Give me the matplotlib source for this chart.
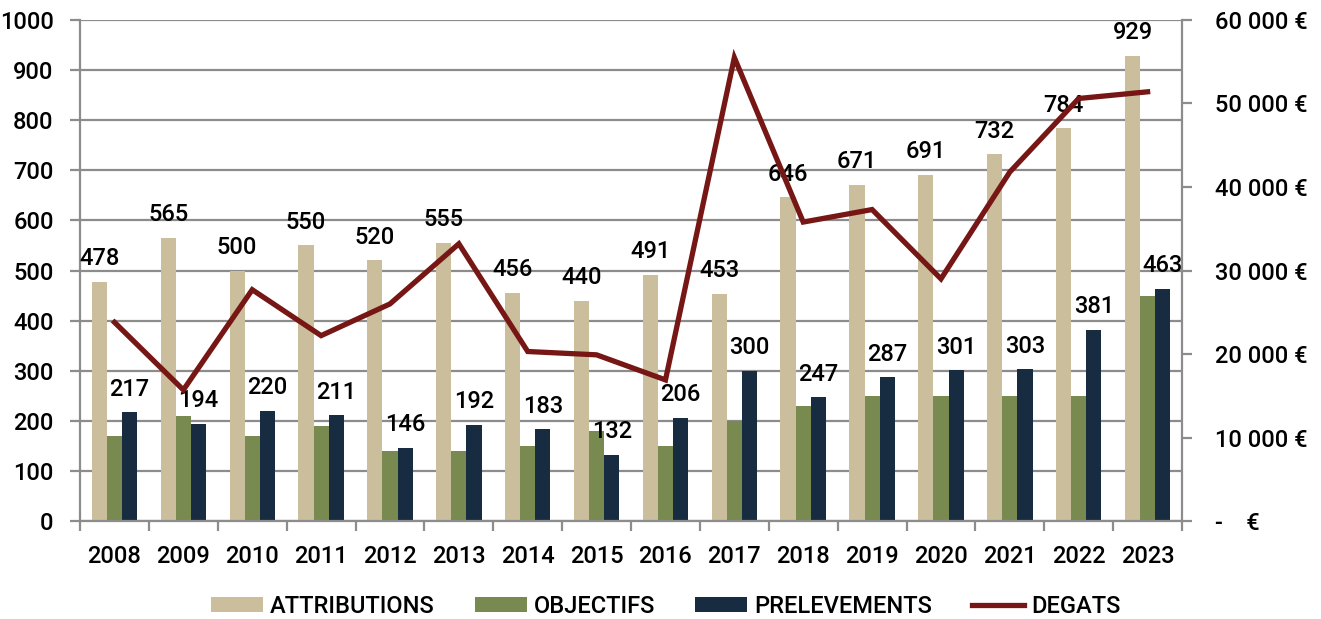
import numpy as np
import matplotlib.pyplot as plt
from matplotlib.ticker import FuncFormatter, MultipleLocator
from matplotlib.lines import Line2D

plt.rcParams['font.family'] = ['Roboto', 'DejaVu Sans']
plt.rcParams['font.size'] = 17
plt.rcParams['font.weight'] = 'medium'

# Données par année
annees = ['2008', '2009', '2010', '2011', '2012', '2013', '2014', '2015',
          '2016', '2017', '2018', '2019', '2020', '2021', '2022', '2023']
attributions = [478, 565, 500, 550, 520, 555, 456, 440, 491, 453, 646, 671, 691, 732, 784, 929]
objectifs = [170, 210, 170, 190, 140, 140, 150, 180, 150, 200, 230, 250, 250, 250, 250, 450]
prelevements = [217, 194, 220, 211, 146, 192, 183, 132, 206, 300, 247, 287, 301, 303, 381, 463]
degats = [23800, 15700, 27700, 22200, 26000, 33200, 20300, 19900, 16900, 55500,
          35800, 37300, 29000, 41800, 50600, 51400]

c_attr = '#CBBE9C'
c_obj = '#788A50'
c_prel = '#182C41'
c_deg = '#761715'
gris = '#8C8C8C'

x = np.arange(len(annees))
w = 0.22

fig = plt.figure(figsize=(13.21, 6.19), dpi=100)
ax = fig.add_axes([0.0606, 0.1583, 0.8342, 0.8094])

b1 = ax.bar(x - w, attributions, w, color=c_attr, zorder=2)
b2 = ax.bar(x, objectifs, w, color=c_obj, zorder=2)
b3 = ax.bar(x + w, prelevements, w, color=c_prel, zorder=2)

# étiquettes des valeurs au-dessus des barres
for xi, v in zip(x - w, attributions):
    ax.annotate(str(v), (xi, v), xytext=(0, 12), textcoords='offset points',
                ha='center', va='baseline', zorder=3)
for xi, v in zip(x + w, prelevements):
    ax.annotate(str(v), (xi, v), xytext=(0, 12), textcoords='offset points',
                ha='center', va='baseline', zorder=3)

ax.set_xlim(-0.5, len(annees) - 0.5)
ax.set_ylim(0, 1000)
ax.yaxis.set_major_locator(MultipleLocator(100))
ax.set_axisbelow(True)
ax.grid(axis='y', color=gris, linewidth=1.6)
ax.set_xticks(x)
ax.set_xticklabels(annees)
ax.set_xticks(np.arange(-0.5, len(annees)), minor=True)
ax.tick_params(axis='x', which='major', length=0, pad=17)
ax.tick_params(axis='x', which='minor', length=7, width=1.6, color=gris)
ax.tick_params(axis='y', length=7, width=1.6, color=gris, pad=12)
for s in ['top', 'right']:
    ax.spines[s].set_visible(False)
for s in ['left', 'bottom']:
    ax.spines[s].set_color(gris)
    ax.spines[s].set_linewidth(1.6)

# axe de droite : dégâts en euros
ax2 = ax.twinx()
ax2.plot(x, degats, color=c_deg, linewidth=3.8, solid_joinstyle='miter', zorder=4)
ax2.set_ylim(0, 60000)
ax2.yaxis.set_major_locator(MultipleLocator(10000))


def euros(v, pos):
    if v == 0:
        return '-    €'
    return '{:,.0f} €'.format(v).replace(',', ' ')


ax2.yaxis.set_major_formatter(FuncFormatter(euros))
ax2.tick_params(axis='y', length=7, width=1.6, color=gris, pad=17)
for s in ['top', 'left', 'bottom']:
    ax2.spines[s].set_visible(False)
ax2.spines['right'].set_color(gris)
ax2.spines['right'].set_linewidth(1.6)

handles = [b1, b2, b3, Line2D([], [], color=c_deg, linewidth=3.8)]
noms = ['ATTRIBUTIONS', 'OBJECTIFS', 'PRELEVEMENTS', 'DEGATS']
fig.legend(handles, noms, loc='center', bbox_to_anchor=(0.504, 0.021), ncol=4,
           frameon=False, handlelength=2.2, handleheight=0.6, handletextpad=0.3,
           columnspacing=1.7, borderaxespad=0)

plt.savefig('out.png', dpi=100)
